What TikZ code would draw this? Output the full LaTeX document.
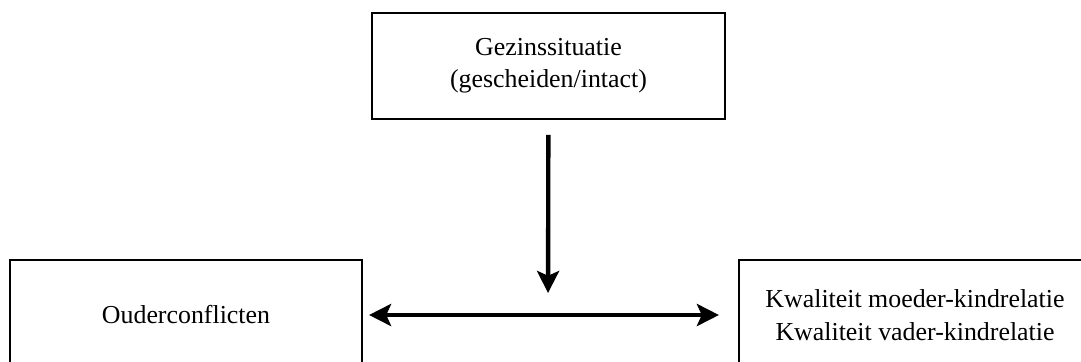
\documentclass[tikz,border=0pt]{standalone}
\usepackage{fontspec}
\setmainfont{Liberation Serif}
\usepackage{tikz}
\usetikzlibrary{positioning,arrows.meta}
\tikzset{
	>={Stealth[length=0.55cm,width=0.55cm,inset=0.12cm]},
	varbox/.style={draw, line width=1.4pt, align=center,
		font=\fontsize{18.4}{23}\selectfont, inner sep=0pt},
	effect/.style={line width=3.1pt},
}

\begin{document}
\begin{tikzpicture}[x=0.025cm,y=-0.025cm]
        \useasboundingbox (0,0) rectangle (1081,362);
        \clip (0,0) rectangle (1081,362);
        \node[varbox, minimum width=8.825cm, minimum height=2.64cm] (gezin) at (548.5,66)
            {Gezinssituatie\\(gescheiden/intact)};
        \node[varbox, minimum width=8.8cm, minimum height=2.75cm] (conflict) at (186,315)
            {Ouderconflicten};
        \node[varbox, minimum width=8.8cm, minimum height=2.75cm] (relatie) at (915,315)
            {Kwaliteit moeder-kindrelatie\\Kwaliteit vader-kindrelatie};
        \coordinate (midden) at (548,315);
        \draw[effect, <->, shorten <=0.15cm, shorten >=0.475cm] (conflict) -- (relatie);
        \draw[effect, ->, shorten <=0.375cm, shorten >=0.55cm] (gezin) -- (midden);
    \end{tikzpicture}
\end{document}
